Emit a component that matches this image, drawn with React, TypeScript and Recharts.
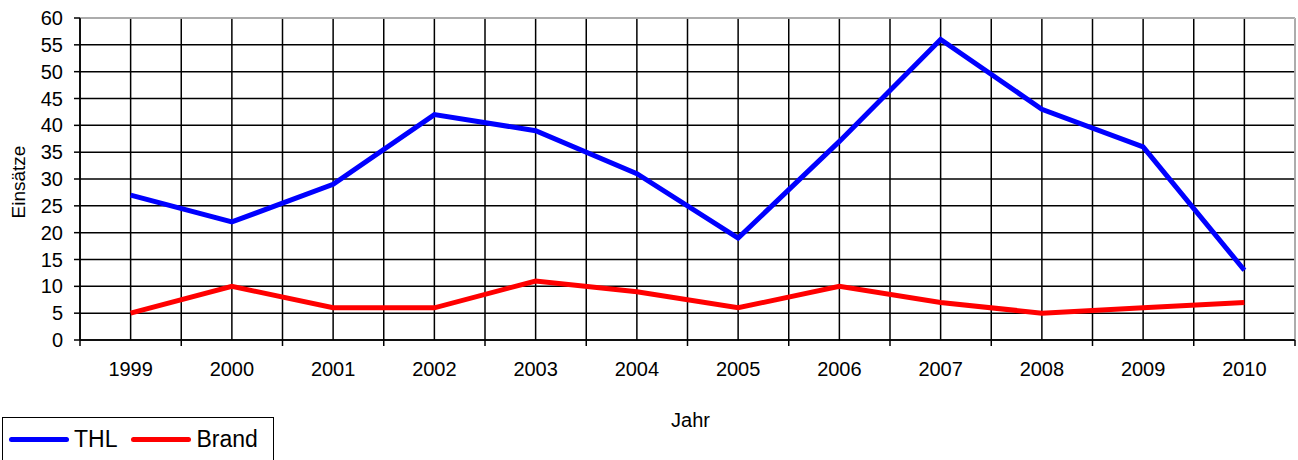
import { LineChart, Line, XAxis, YAxis, CartesianGrid, ReferenceLine, Label } from "recharts"

const YEARS = ["1999", "2000", "2001", "2002", "2003", "2004", "2005", "2006", "2007", "2008", "2009", "2010"]
const THL = [27, 22, 29, 42, 39, 31, 19, 37, 56, 43, 36, 13]
const BRAND = [5, 10, 6, 6, 11, 9, 6, 10, 7, 5, 6, 7]
const Y_TICKS = [0, 5, 10, 15, 20, 25, 30, 35, 40, 45, 50, 55, 60]

const FONT = "'Liberation Sans', Arial, sans-serif"

const data = YEARS.map((year, i) => ({ idx: i, year, thl: THL[i], brand: BRAND[i] }))
// half steps: category centers get labels, boundaries get tick marks
const xTicks: number[] = []
for (let i = 0; i <= YEARS.length * 2; i++) xTicks.push(i / 2 - 0.5)

if (typeof document !== "undefined") document.body.style.margin = "0"

function YearTick(props: any) {
  const { x, y, payload } = props
  const v = payload.value as number
  if (Number.isInteger(v)) {
    return (
      <text x={x} y={y + 36} textAnchor="middle" fontSize={20} fontFamily={FONT} fill="#000">
        {YEARS[v]}
      </text>
    )
  }
  return <line x1={x} x2={x} y1={y} y2={y + 6} stroke="#000" strokeWidth={1.5} />
}

function LegendBox() {
  const item = (color: string, label: string) => (
    <div style={{ display: "flex", alignItems: "center", marginRight: 14 }}>
      <div style={{ width: 60, height: 5, borderRadius: 3, background: color, marginRight: 5 }} />
      <span>{label}</span>
    </div>
  )
  return (
    <div
      style={{
        position: "absolute",
        left: 2,
        top: 417,
        width: 272,
        height: 44,
        border: "1px solid #000",
        boxSizing: "border-box",
        display: "flex",
        alignItems: "center",
        paddingLeft: 6,
        fontFamily: FONT,
        fontSize: 23,
        color: "#000",
      }}
    >
      {item("#0000ff", "THL")}
      {item("#ff0000", "Brand")}
    </div>
  )
}

export default function App() {
  return (
    <div style={{ position: "relative", width: 1298, height: 460, overflow: "hidden", background: "#fff" }}>
      <LineChart width={1298} height={460} data={data} margin={{ top: 18, right: 3, bottom: 30, left: 0 }}>
        <CartesianGrid stroke="#000" strokeWidth={1.5} />
        <XAxis
          dataKey="idx"
          type="number"
          domain={[-0.5, YEARS.length - 0.5]}
          ticks={xTicks}
          interval={0}
          height={90}
          tickSize={0}
          tickMargin={0}
          tickLine={false}
          tick={<YearTick />}
          axisLine={{ stroke: "#000", strokeWidth: 1.5 }}
        >
          <Label
            content={({ viewBox }: any) => (
              <text
                x={viewBox.x + viewBox.width / 2 + 3}
                y={viewBox.y + 87}
                textAnchor="middle"
                fontSize={20}
                fontFamily={FONT}
                fill="#000"
              >
                Jahr
              </text>
            )}
          />
        </XAxis>
        <YAxis
          domain={[0, 60]}
          ticks={Y_TICKS}
          interval={0}
          width={80}
          tickSize={6}
          tickMargin={11}
          tickLine={{ stroke: "#000", strokeWidth: 1.5 }}
          axisLine={{ stroke: "#000", strokeWidth: 1.5 }}
          tick={{ fontSize: 20, fontFamily: FONT, fill: "#000" }}
        >
          <Label
            content={({ viewBox }: any) => (
              <text
                transform={`translate(${viewBox.x + 18}, ${viewBox.y + viewBox.height / 2 + 3}) rotate(-90)`}
                textAnchor="middle"
                dominantBaseline="central"
                fontSize={19}
                fontFamily={FONT}
                fill="#000"
              >
                Einsätze
              </text>
            )}
          />
        </YAxis>
        <ReferenceLine y={60} stroke="#d0d0d0" strokeWidth={1.5} />
        <ReferenceLine x={YEARS.length - 0.5} stroke="#d0d0d0" strokeWidth={1.5} />
        <Line dataKey="thl" name="THL" type="linear" stroke="#0000ff" strokeWidth={5} dot={false} isAnimationActive={false} />
        <Line dataKey="brand" name="Brand" type="linear" stroke="#ff0000" strokeWidth={5} dot={false} isAnimationActive={false} />
      </LineChart>
      <LegendBox />
    </div>
  )
}
